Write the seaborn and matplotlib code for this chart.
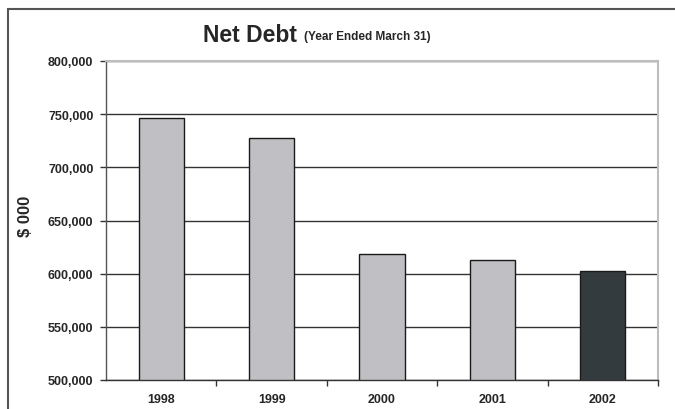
import matplotlib
matplotlib.use("Agg")
import matplotlib.pyplot as plt
import seaborn as sns
import pandas as pd
from matplotlib.patches import Rectangle
from matplotlib.ticker import FuncFormatter, MultipleLocator

years = ["1998", "1999", "2000", "2001", "2002"]
net_debt = [746800, 727200, 618800, 613100, 602200]
bar_colors = ["#C0C0C4", "#C0C0C4", "#C0C0C4", "#C0C0C4", "#343B3F"]
title_main = "Net Debt"
title_sub = "(Year Ended March 31)"
y_label = "$ 000"

sns.set_style("white")
plt.rcParams["font.family"] = ["Liberation Sans", "DejaVu Sans"]
plt.rcParams["font.weight"] = "bold"

df = pd.DataFrame({"year": years, "debt": net_debt})

fig = plt.figure(figsize=(6.75, 4.1), dpi=100)
ax = fig.add_axes([106 / 675, 1 - 381 / 410, (658 - 106) / 675, (381 - 62) / 410])

sns.barplot(data=df, x="year", y="debt", hue="year", palette=bar_colors,
            width=0.41, edgecolor="#1a1a1a", linewidth=1.0, legend=False,
            ax=ax, saturation=1)

ax.set_ylim(500000, 800000)
ax.yaxis.set_major_locator(MultipleLocator(50000))
ax.yaxis.set_major_formatter(FuncFormatter(lambda v, p: f"{int(v):,}"))
ax.set_xlim(-0.5, 4.5)
ax.grid(axis="y", color="#333333", linewidth=1.0)
ax.set_axisbelow(True)

for s in ["top", "right"]:
    ax.spines[s].set_color("#BDBDBD")
    ax.spines[s].set_linewidth(1.5)
ax.spines["left"].set_color("#555555")
ax.spines["bottom"].set_color("#333333")
ax.spines["left"].set_linewidth(1.0)
ax.spines["bottom"].set_linewidth(1.0)

ax.set_xlabel("")
ax.set_ylabel("")
ax.tick_params(axis="y", which="major", left=True, length=4, width=1,
               color="#333333", labelsize=9, pad=5)
ax.tick_params(axis="x", which="major", bottom=False, labelsize=9, pad=6)
ax.set_xticks(range(len(years)))
ax.set_xticklabels(years, fontweight="bold")
ax.set_xticks([0.5, 1.5, 2.5, 3.5, 4.5], minor=True)
ax.tick_params(axis="x", which="minor", bottom=True, length=4, width=1, color="#333333")
for lbl in ax.get_yticklabels():
    lbl.set_fontweight("bold")

fig.text(25 / 675, 1 - 216 / 410, y_label, rotation=90, ha="center", va="center",
         fontsize=12, fontweight="bold")

fig.text(203 / 675, 1 - 42 / 410, title_main, ha="left", va="baseline",
         fontsize=16.5, fontweight="bold")
fig.text(304 / 675, 1 - 40 / 410, title_sub, ha="left", va="baseline",
         fontsize=8.5, fontweight="bold")

fig.patches.append(Rectangle((8 / 675, -0.1), 1.0, 1 - 10 / 410 + 0.1, fill=False,
                             edgecolor="#555555", linewidth=1.5,
                             transform=fig.transFigure, figure=fig))

fig.savefig("out.png", dpi=100)
